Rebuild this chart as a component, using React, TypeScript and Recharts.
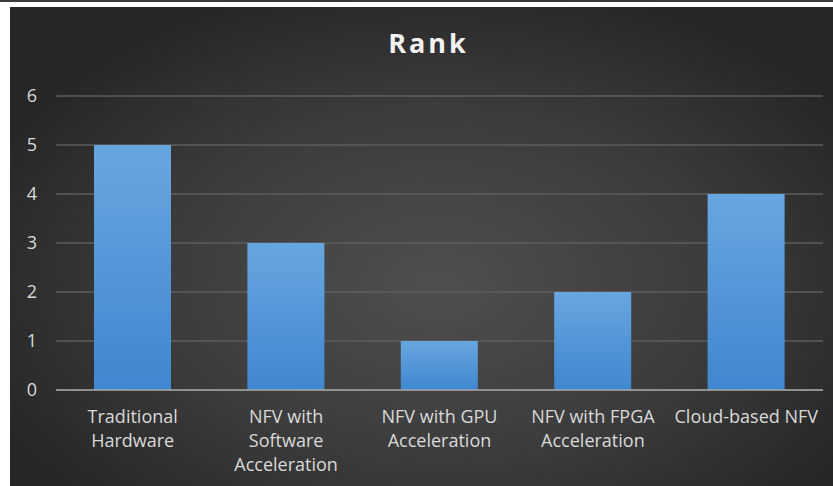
import React from 'react';
import { Bar, BarChart, CartesianGrid, XAxis, YAxis } from 'recharts';

const categories = [
  'Traditional Hardware',
  'NFV with Software Acceleration',
  'NFV with GPU Acceleration',
  'NFV with FPGA Acceleration',
  'Cloud-based NFV',
];

// how each category label breaks into lines
const categoryLines = [
  ['Traditional', 'Hardware'],
  ['NFV with', 'Software', 'Acceleration'],
  ['NFV with GPU', 'Acceleration'],
  ['NFV with FPGA', 'Acceleration'],
  ['Cloud-based NFV'],
];

const rankValues = [5, 3, 1, 2, 4];
const yTicks = [0, 1, 2, 3, 4, 5, 6];

const data = categories.map((name, i) => ({ name, rank: rankValues[i] }));

const FONT = '"Open Sans", Lato, sans-serif';
const LABEL = '#d9d9d9';

const XTick = ({ x, y, index }: any) => {
  const lines = categoryLines[index] || [];
  return (
    <text x={x} y={y} textAnchor="middle" fill={LABEL} fontSize={18} fontFamily={FONT}>
      {lines.map((l, i) => (
        <tspan key={i} x={x} dy={i === 0 ? 33 : 24}>{l}</tspan>
      ))}
    </text>
  );
};

const YTick = ({ y, payload }: any) => (
  <text x={27} y={y} dy={6} textAnchor="end" fill={LABEL} fontSize={18} fontFamily={FONT}>
    {payload.value}
  </text>
);

export default function App() {
  return (
    <div style={{ position: 'absolute', left: 0, top: 0, width: 833, height: 486, background: '#fff', overflow: 'hidden' }}>
      <div style={{ position: 'absolute', left: 0, top: 0, width: 833, height: 2, background: '#3a3a3a' }} />
      <div
        style={{
          position: 'absolute',
          left: 10,
          top: 7,
          width: 823,
          height: 479,
          background: 'radial-gradient(ellipse 60% 65% at 52% 58%, #4f4f4f 0%, #3c3c3c 55%, #262626 100%)',
        }}
      >
        <div
          style={{
            position: 'absolute',
            left: 0,
            top: 19,
            width: 837,
            textAlign: 'center',
            color: '#f2f2f2',
            fontFamily: FONT,
            fontWeight: 700,
            fontSize: 27,
            lineHeight: '34px',
            letterSpacing: 3,
          }}
        >
          Rank
        </div>
        <BarChart width={823} height={479} data={data} margin={{ top: 89, right: 10, left: 0, bottom: 0 }}>
          <defs>
            <linearGradient id="barFill" x1="0" y1="0" x2="0" y2="1">
              <stop offset="0%" stopColor="#68a6e0" />
              <stop offset="100%" stopColor="#3f87cf" />
            </linearGradient>
          </defs>
          <CartesianGrid vertical={false} stroke="#5c5c5c" strokeWidth={1.5} />
          <XAxis
            dataKey="name"
            interval={0}
            height={96}
            tickLine={false}
            tickSize={0}
            tickMargin={0}
            stroke="#a6a6a6"
            strokeWidth={1.5}
            tick={<XTick />}
          />
          <YAxis
            width={46}
            domain={[0, 6]}
            ticks={yTicks}
            axisLine={false}
            tickLine={false}
            tick={<YTick />}
          />
          <Bar dataKey="rank" fill="url(#barFill)" barSize={77} isAnimationActive={false} />
        </BarChart>
      </div>
    </div>
  );
}
